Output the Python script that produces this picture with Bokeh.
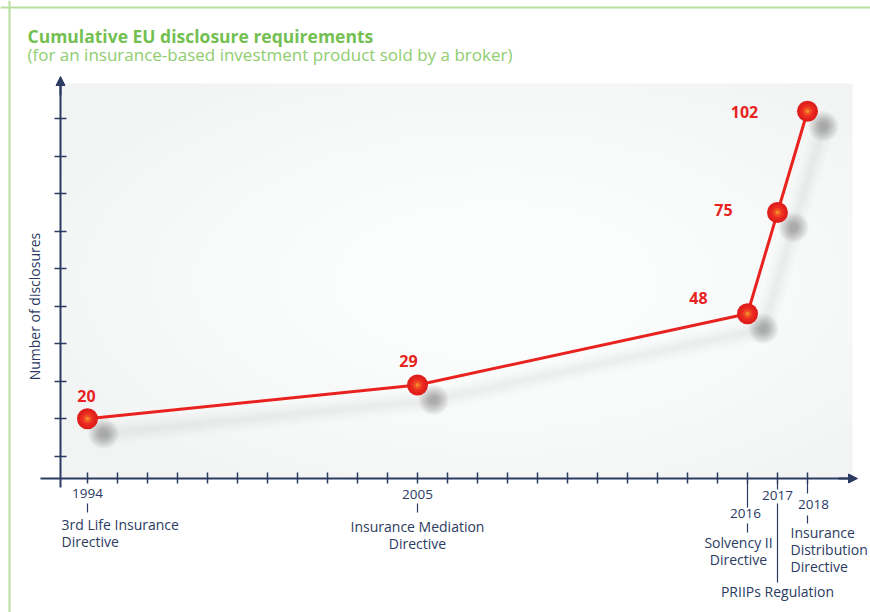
import numpy as np
from bokeh.plotting import figure
from bokeh.models import (Range1d, LinearAxis, FixedTicker, Span, Label, Arrow,
                          NormalHead, ColumnDataSource, CustomJSTickFormatter)
from bokeh.core.properties import value
from bokeh.embed import file_html
from bokeh.resources import INLINE

# ---------------- data ----------------
years = [1994, 2005, 2016, 2017, 2018]
disclosures = [20, 29, 48, 75, 102]
year_labels = ["1994", "2005", "2016", "2017", "2018"]
legislation = [["3rd Life Insurance", "Directive"],
               ["Insurance Mediation", "Directive"],
               ["Solvency II", "Directive"],
               ["PRIIPs Regulation"],
               ["Insurance", "Distribution", "Directive"]]
axis_years = list(range(1994, 2019))
y_ticks = list(range(10, 101, 10))
title = "Cumulative EU disclosure requirements"
subtitle = "(for an insurance-based investment product sold by a broker)"
y_title = "Number of disclosures"

# ---------------- layout / style ----------------
W, H = 870, 612
M = 0
PX_YEAR = 30.0
PX_UNIT = 3.749
X_REF_PX = 87.0
Y_REF_PX = 455.7

def X(px):
    return years[0] + (px - X_REF_PX) / PX_YEAR

def Y(py):
    return y_ticks[0] + (Y_REF_PX - py) / PX_UNIT

def dxp(px):
    return px / PX_YEAR

def dyp(px):
    return px / PX_UNIT

NAVY = "#2b3b62"
RED = "#e8231f"
FONT = "Open Sans"

p = figure(width=W, height=H, x_range=Range1d(X(M), X(M + W)),
           y_range=Range1d(Y(M + H), Y(M)), output_backend="svg",
           toolbar_location=None, x_axis_location=None, y_axis_location=None,
           min_border=0, outline_line_color=None,
           background_fill_color="white", border_fill_color="white")
p.xgrid.grid_line_color = None
p.ygrid.grid_line_color = None

# green frame (top + left)
p.add_layout(Span(location=X(9), dimension="height", line_color="#b8df9c", line_width=2))
p.add_layout(Span(location=Y(7), dimension="width", line_color="#b8df9c", line_width=2))

# gradient panel
gh, gw = 120, 240
vv, uu = np.mgrid[0:gh, 0:gw]
u = (uu + 0.5) / gw
v = (vv + 0.5) / gh
r = np.sqrt(((u - 0.55) / 0.65) ** 2 + ((v - 0.5) / 0.65) ** 2)
shade = 253 - 11 * np.clip(r, 0, 1) ** 1.5
img = np.empty((gh, gw), dtype=np.uint32)
view = img.view(dtype=np.uint8).reshape((gh, gw, 4))
view[..., 0] = shade.astype(np.uint8)
view[..., 1] = np.clip(shade + 1, 0, 255).astype(np.uint8)
view[..., 2] = np.clip(shade + 1, 0, 255).astype(np.uint8)
view[..., 3] = 255
AX_X = X(60)
AX_Y = Y(478)
p.image_rgba(image=[img], x=AX_X, y=AX_Y, dw=X(852) - AX_X, dh=Y(83) - AX_Y)

# axes
blank = CustomJSTickFormatter(code="return ''")
xaxis = LinearAxis(fixed_location=AX_Y, bounds=(X(40), X(850)),
                   ticker=FixedTicker(ticks=axis_years), formatter=blank,
                   axis_line_color=NAVY, axis_line_width=2,
                   major_tick_line_color=NAVY, major_tick_line_width=1.5,
                   major_tick_in=6, major_tick_out=5, minor_tick_line_color=None)
yaxis = LinearAxis(fixed_location=AX_X, bounds=(Y(487), Y(84)),
                   ticker=FixedTicker(ticks=y_ticks), formatter=blank,
                   axis_line_color=NAVY, axis_line_width=2,
                   major_tick_line_color=NAVY, major_tick_line_width=1.5,
                   major_tick_in=6, major_tick_out=6, minor_tick_line_color=None)
p.add_layout(xaxis, "below")
p.add_layout(yaxis, "left")
p.add_layout(Arrow(end=NormalHead(size=9, fill_color=NAVY, line_color=NAVY),
                   x_start=AX_X, y_start=Y(95), x_end=AX_X, y_end=Y(76),
                   line_color=NAVY, line_width=2))
p.add_layout(Arrow(end=NormalHead(size=9, fill_color=NAVY, line_color=NAVY),
                   x_start=X(838), y_start=AX_Y, x_end=X(857), y_end=AX_Y,
                   line_color=NAVY, line_width=2))

# shadows (soft, offset down-right)
sx = [x + dxp(16) for x in years]
sy = [y - dyp(15) for y in disclosures]
for w, a in [(22, 0.014), (16, 0.016), (11, 0.02), (6, 0.024)]:
    p.line(sx, sy, line_color="#505050", line_width=w, line_alpha=a, line_cap="round")
for s in [30, 27, 24, 21, 18, 15, 12, 9]:
    p.scatter(sx, sy, size=s, fill_color="#383838", fill_alpha=0.05, line_color=None)

# main line and points
p.line(years, disclosures, line_color=RED, line_width=3)
p.scatter(years, disclosures, size=21, fill_color="#df1f1b", line_color=None)
p.scatter(years, disclosures, size=15, fill_color="#ea2a21", line_color=None)
p.scatter(years, disclosures, size=9, fill_color="#f04a24", line_color=None)
p.scatter(years, disclosures, size=4, fill_color="#f58a2c", line_color=None)

# value labels
val_dx = [-1, -9, -49, -54, -63]
val_dy = [-23, -24, -16, -3, 1]
vsrc = ColumnDataSource(dict(x=years, y=disclosures, t=[str(v) for v in disclosures],
                             dx=val_dx, dy=val_dy))
p.text(x="x", y="y", text="t", x_offset="dx", y_offset="dy", source=vsrc,
       text_align="center", text_baseline="middle", text_color=RED,
       text_font=value(FONT), text_font_style="bold", text_font_size="16px")

# year labels
year_dx = [0, 0, -2, 0, 6]
year_dy = [15, 16, 35, 17, 26]
ysrc = ColumnDataSource(dict(x=years, y=[AX_Y] * len(years), t=year_labels,
                             dx=year_dx, dy=year_dy))
p.text(x="x", y="y", text="t", x_offset="dx", y_offset="dy", source=ysrc,
       text_align="center", text_baseline="middle", text_color=NAVY,
       text_font=value(FONT), text_font_size="13.5px")

# extended ticks and connectors
tick_ext = [0, 0, 29, 11, 15]
conn = [(25, 34), (25, 34), (45, 54), (25, 104), (37, 45)]
sx0, sy0, sx1, sy1 = [], [], [], []
for yr, ext, (c0, c1) in zip(years, tick_ext, conn):
    if ext > 0:
        sx0.append(yr); sx1.append(yr)
        sy0.append(AX_Y - dyp(4)); sy1.append(AX_Y - dyp(ext))
    sx0.append(yr); sx1.append(yr)
    sy0.append(AX_Y - dyp(c0)); sy1.append(AX_Y - dyp(c1))
p.segment(sx0, sy0, sx1, sy1, line_color=NAVY, line_width=1.2)

# legislation names
name_dx = [-26, 0, -9, 0, -17]
name_dy = [46, 48, 64, 113, 54]
name_align = ["left", "center", "center", "center", "left"]
LINE_STEP = 17
for yr, lines, ndx, ndy, al in zip(years, legislation, name_dx, name_dy, name_align):
    n = len(lines)
    src = ColumnDataSource(dict(x=[yr] * n, y=[AX_Y] * n, t=lines,
                                dy=[ndy + i * LINE_STEP for i in range(n)]))
    p.text(x="x", y="y", text="t", x_offset=ndx, y_offset="dy", source=src,
           text_align=al, text_baseline="middle", text_color=NAVY,
           text_font=value(FONT), text_font_size="14px")

# titles
p.add_layout(Label(x=X(27), y=Y(35), text=title, text_align="left",
                   text_baseline="alphabetic", text_color="#74bf52",
                   text_font=FONT, text_font_style="bold", text_font_size="17.5px"))
p.add_layout(Label(x=X(27), y=Y(54), text=subtitle, text_align="left",
                   text_baseline="alphabetic", text_color="#8fcd70",
                   text_font=FONT, text_font_size="17px"))
p.add_layout(Label(x=X(34), y=Y(306), text=y_title, angle=90, angle_units="deg",
                   text_align="center", text_baseline="middle", text_color=NAVY,
                   text_font=FONT, text_font_size="14px"))

open("out.html", "w").write(file_html(p, INLINE))
